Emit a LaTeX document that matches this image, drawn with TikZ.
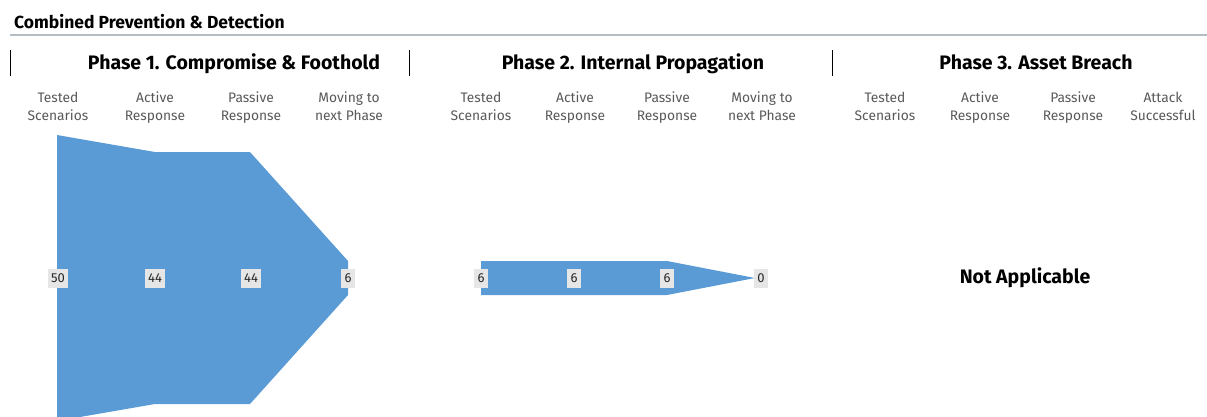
\documentclass[tikz,border=0pt]{standalone}
\usepackage{fontspec}
\setmainfont{Fira Sans}
\usetikzlibrary{positioning}
\definecolor{funnel}{HTML}{5B9BD5}
\definecolor{rulegray}{HTML}{B4BCC4}
\definecolor{colgray}{HTML}{595959}
\definecolor{valbg}{HTML}{E6E6E6}
\tikzstyle{value}=[fill=valbg, text=black!85, font=\fontsize{13}{13}\selectfont, inner xsep=3.5pt, inner ysep=0pt, minimum height=19pt]
\tikzstyle{colhead}=[text=colgray, align=center, font=\fontsize{13.8}{18}\selectfont]
\tikzstyle{phase}=[font=\bfseries\fontsize{19.5}{20}\selectfont]

\begin{document}
\begin{tikzpicture}[x=1pt, y=-1pt]
\useasboundingbox (0,0) rectangle (1207,416);
\clip (0,0) rectangle (1207,416);
% Title
    \node[anchor=west, font=\bfseries\fontsize{17.5}{18}\selectfont, inner sep=0pt] (title) at (14,22) {Combined Prevention \& Detection};
    \draw[rulegray, line width=2pt] (10,35) -- (1207,35);
% Phase separators
    \draw[line width=1pt] (10.5,50) -- (10.5,76);
    \draw[line width=1pt] (409.5,50) -- (409.5,76);
    \draw[line width=1pt] (832.5,50) -- (832.5,76);
% Phase titles
    \node[phase] (ph1) at (234,65) {\strut Phase 1. Compromise \& Foothold};
    \node[phase] (ph2) at (633,65) {\strut Phase 2. Internal Propagation};
    \node[phase] (ph3) at (1036,65) {\strut Phase 3. Asset Breach};
% Column heads
    \node[colhead] (c11) at (58,108) {\strut Tested\\Scenarios\strut};
    \node[colhead] (c12) at (155,108) {\strut Active\\Response\strut};
    \node[colhead] (c13) at (251,108) {\strut Passive\\Response\strut};
    \node[colhead] (c14) at (349,108) {\strut Moving to\\next Phase\strut};
    \node[colhead] (c21) at (481,108) {\strut Tested\\Scenarios\strut};
    \node[colhead] (c22) at (575,108) {\strut Active\\Response\strut};
    \node[colhead] (c23) at (667,108) {\strut Passive\\Response\strut};
    \node[colhead] (c24) at (762,108) {\strut Moving to\\next Phase\strut};
    \node[colhead] (c31) at (885,108) {\strut Tested\\Scenarios\strut};
    \node[colhead] (c32) at (980,108) {\strut Active\\Response\strut};
    \node[colhead] (c33) at (1073,108) {\strut Passive\\Response\strut};
    \node[colhead] (c34) at (1163,108) {\strut Attack\\Successful\strut};
% Funnels
    \fill[funnel] (57,135) -- (155,152) -- (250,152) -- (348,261) -- (348,295)
        -- (250,404) -- (155,404) -- (57,421) -- cycle;
    \fill[funnel] (481,261) -- (667,261) -- (755,278) -- (667,295) -- (481,295) -- cycle;
% Values
    \node[value] (v11) at (58,278) {50};
    \node[value] (v12) at (155,278) {44};
    \node[value] (v13) at (251,278) {44};
    \node[value] (v14) at (348,278) {6};
    \node[value] (v21) at (481,278) {6};
    \node[value] (v22) at (574,278) {6};
    \node[value] (v23) at (667,278) {6};
    \node[value] (v24) at (761,278) {0};
    \node[font=\bfseries\fontsize{19.5}{20}\selectfont] (na) at (1025,279) {\strut Not Applicable};
\end{tikzpicture}
\end{document}
